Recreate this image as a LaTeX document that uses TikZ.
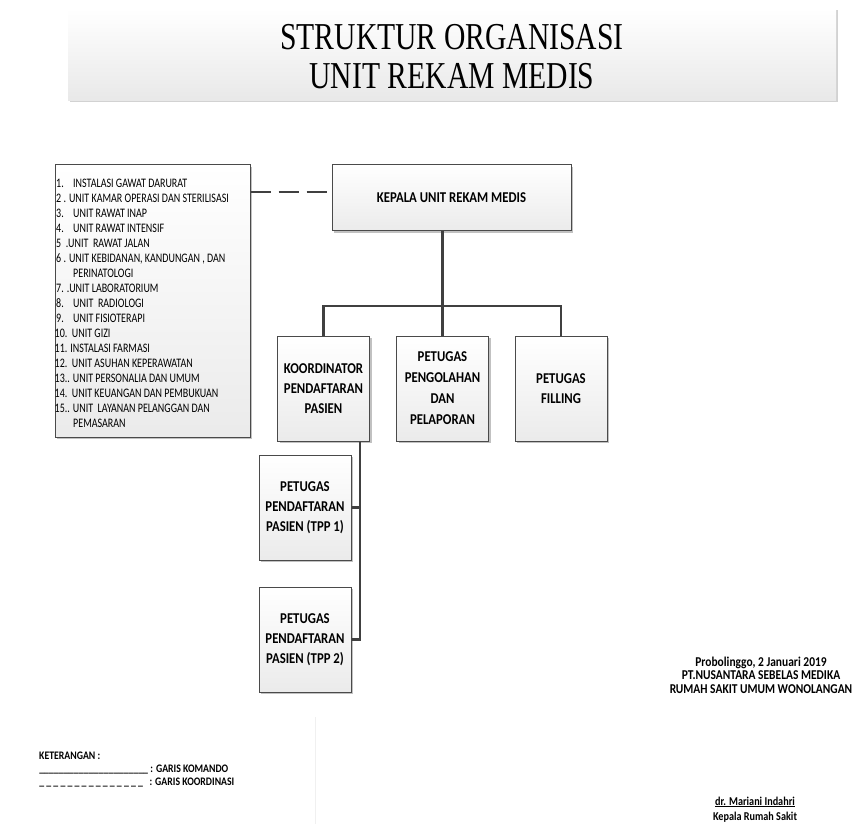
\documentclass[tikz,border=0pt]{standalone}
\usepackage{fontspec}
\setmainfont{Carlito}
\newfontfamily\titlefont[FakeStretch=0.78]{Liberation Serif}
\newfontfamily\boxfont[FakeStretch=0.85]{Carlito}
\newfontfamily\listfont[FakeStretch=0.77]{Carlito}
\usetikzlibrary{shadows}
\definecolor{linec}{HTML}{404040}
\definecolor{boxborder}{HTML}{4A4A4A}
\tikzset{
  orgbox/.style={draw=boxborder, line width=1pt, top color=white, bottom color=black!8,
    drop shadow={shadow xshift=2pt, shadow yshift=-2pt, fill=black!40, opacity=0.6},
    minimum width=92pt, minimum height=105pt, inner sep=0pt, align=center,
    font=\boxfont\bfseries\fontsize{15}{20}\selectfont},
  titlebox/.style={top color=white, bottom color=black!9, minimum width=768pt, minimum height=92pt,
    drop shadow={shadow xshift=1.5pt, shadow yshift=-1.5pt, fill=black!25, opacity=0.7}, inner sep=0pt},
  cmd/.style={draw=linec, line width=2.6pt},
  coordline/.style={draw=linec, line width=2.8pt, dash pattern=on 20pt off 8pt},
  plain/.style={inner sep=0pt, font=\boxfont\bfseries\fontsize{13.5}{13.5}\selectfont, align=center},
  legend/.style={inner sep=0pt, anchor=west, font=\boxfont\bfseries\fontsize{11.5}{13}\selectfont},
}
\begin{document}
\begin{tikzpicture}[x=1pt,y=1pt]
\useasboundingbox (0,0) rectangle (855,-824);
\fill[white] (0,0) rectangle (855,-824);

% title
\node[titlebox] (title) at (452,-55) {};
\node[inner sep=0pt, align=center, font=\titlefont\fontsize{38}{39}\selectfont] (titletext) at (452,-57)
  {STRUKTUR ORGANISASI\\UNIT REKAM MEDIS};

% unit list
\node[orgbox, minimum width=195pt, minimum height=272pt] (list) at (152.5,-301) {};
\node[anchor=north west, inner sep=0pt, align=left, font=\listfont\fontsize{13}{15}\selectfont] (listtext) at (56,-178.5)
  {\makebox[17pt][l]{1.}INSTALASI GAWAT DARURAT\\
   2 . UNIT KAMAR OPERASI DAN STERILISASI\\
   \makebox[17pt][l]{3.}UNIT RAWAT INAP\\
   \makebox[17pt][l]{4.}UNIT RAWAT INTENSIF\\
   5\ \ .UNIT\ \ RAWAT JALAN\\
   6 . UNIT KEBIDANAN, KANDUNGAN , DAN\\
   \hspace*{17pt}PERINATOLOGI\\
   7. .UNIT LABORATORIUM\\
   \makebox[17pt][l]{8.}UNIT\ \ RADIOLOGI\\
   \makebox[17pt][l]{9.}UNIT FISIOTERAPI\\
   \hspace*{-1.5pt}10.\ \ UNIT GIZI\\
   \hspace*{-1.5pt}11. INSTALASI FARMASI\\
   \hspace*{-1.5pt}12.\ \ UNIT ASUHAN KEPERAWATAN\\
   \hspace*{-1.5pt}13.. UNIT PERSONALIA DAN UMUM\\
   \hspace*{-1.5pt}14.\ \ UNIT KEUANGAN DAN PEMBUKUAN\\
   \hspace*{-1.5pt}15.. UNIT\ \ LAYANAN PELANGGAN DAN\\
   \hspace*{17pt}PEMASARAN};

% boxes
\node[orgbox, minimum width=239pt, minimum height=66pt] (kepala) at (451.5,-198) {KEPALA UNIT REKAM MEDIS};
\node[orgbox] (koordinator) at (323.5,-388.5) {KOORDINATOR\\PENDAFTARAN\\PASIEN};
\node[orgbox, font=\boxfont\bfseries\fontsize{15}{21}\selectfont] (olah) at (442.5,-388.5) {PETUGAS\\PENGOLAHAN\\DAN\\PELAPORAN};
\node[orgbox] (filling) at (561,-388.5) {PETUGAS\\FILLING};
\node[orgbox] (tpp1) at (305,-507.5) {PETUGAS\\PENDAFTARAN\\PASIEN (TPP 1)};
\node[orgbox] (tpp2) at (305,-639.5) {PETUGAS\\PENDAFTARAN\\PASIEN (TPP 2)};

% connectors
\coordinate (dashy) at (0,-192);
\coordinate (bus) at (0,-306);
\coordinate (kvx) at (360,0);
\draw[coordline] (list.east |- dashy) -- (kepala.west |- dashy);
\draw[cmd] (kepala.south -| olah.north) -- (olah.north);
\draw[cmd] (koordinator.north) -- (koordinator.north |- bus) -- (filling.north |- bus) -- (filling.north);
\draw[cmd] (koordinator.south -| kvx) |- (tpp2.east);
\draw[cmd] (tpp1.east) -- (tpp1.east -| kvx);

% signature block
\node[plain] (place) at (761,-675) {Probolinggo, 2 Januari 2019\\PT.NUSANTARA SEBELAS MEDIKA\\RUMAH SAKIT UMUM WONOLANGAN};
\node[plain, font=\boxfont\bfseries\fontsize{12}{13}\selectfont] (sign) at (755,-802) {\underline{dr. Mariani Indahri}};
\node[plain, font=\boxfont\bfseries\fontsize{12}{13}\selectfont] (jabatan) at (755,-817) {Kepala Rumah Sakit};

% legend
\node[legend] (ket) at (39,-756) {KETERANGAN :};
\node[legend] (komando) at (39,-770) {\hbox to 109pt{\xleaders\hbox{\_}\hfill}\ : GARIS KOMANDO};
\node[legend] (koordinasi) at (39,-783) {\hbox to 106pt{\xleaders\hbox{\_\kern2pt}\hfill}\ \ : GARIS KOORDINASI};

% faint page divider
\draw[black!6, line width=0.8pt] (315,-717) -- (315,-824);
\end{tikzpicture}
\end{document}
